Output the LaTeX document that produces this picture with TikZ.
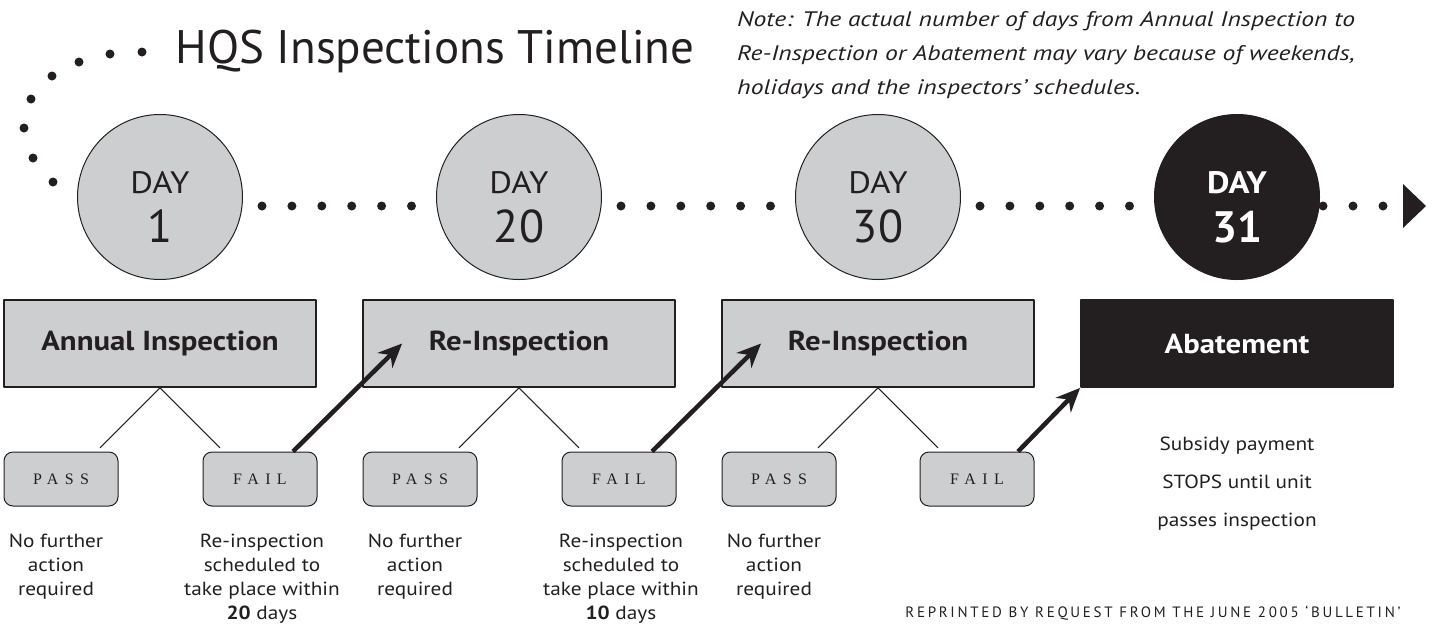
\documentclass[tikz,border=0pt]{standalone}
\usepackage{fontspec}
\setmainfont{PT Sans}
\newfontfamily\bodyfont[FakeStretch=1.12]{PT Sans}
\newfontfamily\notefont[FakeStretch=1.22]{PT Sans}
\newfontfamily\serifcaps[LetterSpace=40]{Liberation Serif}
\newfontfamily\creditfont[LetterSpace=18]{PT Sans}
\usetikzlibrary{arrows.meta}
\definecolor{ink}{HTML}{231F20}
\definecolor{shade}{HTML}{CDCED0}

\begin{document}
\begin{tikzpicture}[x=1pt, y=-1pt, line join=round,
  every node/.style={text=ink},
  day/.style={circle, draw=ink, fill=shade, line width=1pt, minimum size=165pt, inner sep=0pt},
  dayword/.style={anchor=base, font=\bodyfont\fontsize{31}{31}\selectfont},
  daynum/.style={anchor=base, font=\fontsize{46}{46}\selectfont},
  stage/.style={rectangle, draw=ink, fill=shade, line width=1.8pt, minimum width=312pt, minimum height=87pt, font=\bodyfont\bfseries\fontsize{27.5}{27.5}\selectfont},
  verdict/.style={rectangle, rounded corners=9pt, draw=ink, fill=shade, line width=1pt, minimum width=114pt, minimum height=54pt, font=\serifcaps\fontsize{16}{16}\selectfont},
  remark/.style={align=center, anchor=north, inner sep=0pt, font=\bodyfont\fontsize{19}{24}\selectfont},
  push/.style={-{Stealth[length=24pt,width=21pt]}, line width=4.5pt, draw=ink}]
\useasboundingbox (0,0) rectangle (1436,625);

% dotted timeline
\foreach \x/\y in {142/52,110/54,79/62,52/76,31/99,24/128,33/158,53/182}
  \fill[ink] (\x,\y) circle (4.5pt);
\foreach \k in {0,1,2}
  \foreach \i in {0,...,5}
    \fill[ink] ({262+359*\k+29.9*\i},206) circle (4.5pt);
\foreach \x in {1323,1353,1383}
  \fill[ink] (\x,206) circle (4.5pt);
\fill[ink] (1403,184) -- (1426,206) -- (1403,228) -- cycle;

\node[anchor=base west, font=\fontsize{47}{47}\selectfont] (title) at (172,63) {HQS Inspections Timeline};
\node[anchor=north west, inner sep=0pt, align=left, font=\notefont\itshape\fontsize{21}{34}\selectfont] (note) at (737,11)
  {Note: The actual number of days from Annual Inspection to\\
   Re-Inspection or Abatement may vary because of weekends,\\
   holidays and the inspectors’ schedules.};

% days
\foreach \n/\x in {1/160,20/519,30/878}{
  \node[day] (c\n) at (\x,197) {};
  \node[dayword] (w\n) at (\x,193) {DAY};
  \node[daynum] (n\n) at (\x,242) {\n};
}
\node[day, fill=ink] (c31) at (1237,197) {};
\node[dayword, text=white, font=\bodyfont\bfseries\fontsize{31}{31}\selectfont] (w31) at (1237,193) {DAY};
\node[daynum, text=white, font=\bfseries\fontsize{44}{44}\selectfont] (n31) at (1237,242) {31};

% stages
\node[stage] (b1) at (160,343.5) {Annual Inspection};
\node[stage] (b2) at (519,343.5) {Re-Inspection};
\node[stage] (b3) at (878,343.5) {Re-Inspection};
\node[stage, fill=ink, text=white] (ab) at (1237,343.5) {Abatement};

\node[verdict] (p1) at (61,479) {PASS};
\node[verdict] (f1) at (260,479) {FAIL};
\node[verdict] (p2) at (420,479) {PASS};
\node[verdict] (f2) at (619,479) {FAIL};
\node[verdict] (p3) at (779,479) {PASS};
\node[verdict] (f3) at (977,479) {FAIL};

\foreach \b in {b1,b2,b3}{
  \draw[ink, line width=1pt] (\b.south) -- ++(-60,60);
  \draw[ink, line width=1pt] (\b.south) -- ++(60,60);
}

\draw[push] ([xshift=33pt]f1.north) -- ([xshift=40pt]b2.west);
\draw[push] ([xshift=33pt]f2.north) -- ([xshift=40pt]b3.west);
\draw[push] ([xshift=41pt]f3.north) -- (ab.south west);

% outcomes
\node[remark] (r1) at (56,534) {No further\\action\\required};
\node[remark] (r2) at (262,534) {Re-inspection\\scheduled to\\take place within\\\textbf{20} days};
\node[remark] (r3) at (415,534) {No further\\action\\required};
\node[remark] (r4) at (621,534) {Re-inspection\\scheduled to\\take place within\\\textbf{10} days};
\node[remark] (r5) at (774,534) {No further\\action\\required};
\node[remark, font=\bodyfont\fontsize{19}{38}\selectfont] (r6) at (1237,437) {Subsidy payment\\STOPS until unit\\passes inspection};

\node[anchor=base east, font=\creditfont\fontsize{15}{15}\selectfont] (credit) at (1404,617)
  {REPRINTED BY REQUEST FROM THE JUNE 2005 ‘BULLETIN’};
\end{tikzpicture}
\end{document}
